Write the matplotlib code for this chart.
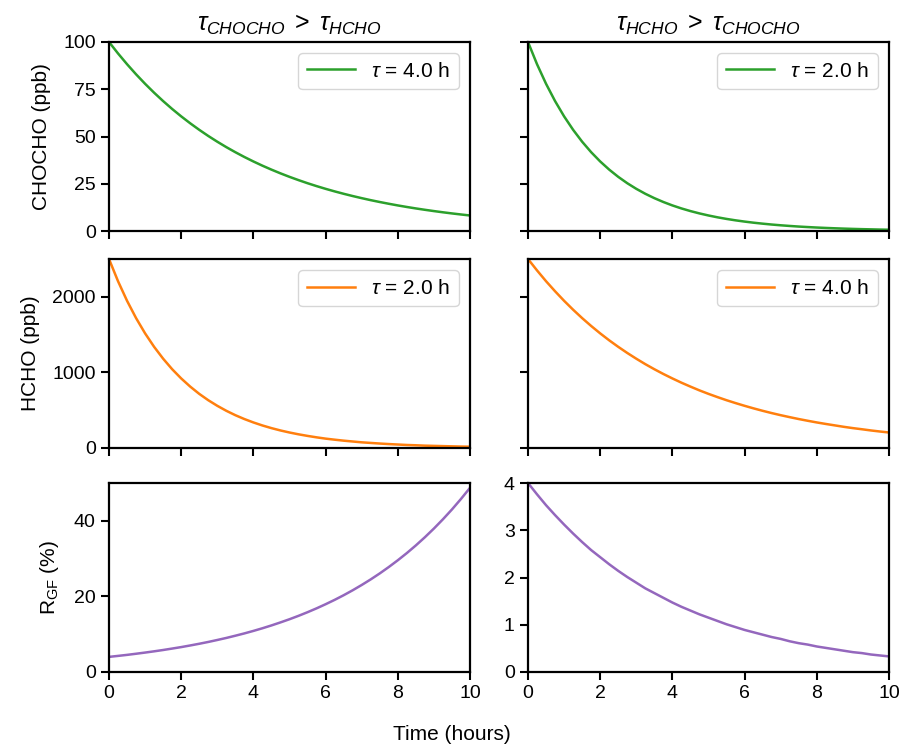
import numpy as np
import matplotlib
matplotlib.use('Agg')
import matplotlib.pyplot as plt

plt.rcParams['font.family'] = ['Liberation Sans', 'DejaVu Sans']
plt.rcParams['mathtext.fontset'] = 'custom'
plt.rcParams['mathtext.rm'] = 'Liberation Sans'
plt.rcParams['mathtext.it'] = 'Liberation Sans:italic'
plt.rcParams['font.size'] = 14

# time axis (hours), read every quarter hour
t = [0, 0.25, 0.5, 0.75, 1, 1.25, 1.5, 1.75, 2, 2.25, 2.5, 2.75, 3, 3.25, 3.5, 3.75,
     4, 4.25, 4.5, 4.75, 5, 5.25, 5.5, 5.75, 6, 6.25, 6.5, 6.75, 7, 7.25, 7.5, 7.75,
     8, 8.25, 8.5, 8.75, 9, 9.25, 9.5, 9.75, 10]

# CHOCHO (ppb)
chocho_left = [100, 93.94, 88.25, 82.90, 77.88, 73.16, 68.73, 64.56, 60.65, 56.98,
               53.53, 50.28, 47.24, 44.37, 41.69, 39.16, 36.79, 34.56, 32.47, 30.50,
               28.65, 26.92, 25.28, 23.75, 22.31, 20.96, 19.69, 18.50, 17.38, 16.32,
               15.34, 14.41, 13.53, 12.71, 11.94, 11.22, 10.54, 9.90, 9.30, 8.74, 8.21]
chocho_right = [100, 88.25, 77.88, 68.73, 60.65, 53.53, 47.24, 41.69, 36.79, 32.47,
                28.65, 25.28, 22.31, 19.69, 17.38, 15.34, 13.53, 11.94, 10.54, 9.30,
                8.21, 7.24, 6.39, 5.64, 4.98, 4.39, 3.88, 3.42, 3.02, 2.67,
                2.35, 2.08, 1.83, 1.62, 1.43, 1.26, 1.11, 0.98, 0.87, 0.76, 0.67]

# HCHO (ppb)
hcho_left = [2500, 2206, 1947, 1718, 1516, 1338, 1181, 1042, 920, 812,
             716, 632, 558, 492, 434, 383, 338, 298, 263, 232,
             205, 181, 160, 141, 124, 110, 97, 86, 75, 67,
             59, 52, 46, 40, 36, 31, 28, 25, 22, 19, 17]
hcho_right = [2500, 2349, 2206, 2073, 1947, 1829, 1718, 1614, 1516, 1424,
              1338, 1257, 1181, 1109, 1042, 979, 920, 864, 812, 762,
              716, 673, 632, 594, 558, 524, 492, 462, 434, 408,
              383, 360, 338, 318, 299, 280, 263, 248, 232, 218, 205]

# R_GF (%)
rgf_left = [4.00, 4.26, 4.53, 4.83, 5.14, 5.47, 5.82, 6.20, 6.59, 7.02,
            7.47, 7.95, 8.47, 9.01, 9.60, 10.21, 10.87, 11.57, 12.32, 13.12,
            13.96, 14.86, 15.82, 16.84, 17.93, 19.08, 20.31, 21.62, 23.02, 24.50,
            26.08, 27.77, 29.56, 31.46, 33.49, 35.65, 37.95, 40.40, 43.00, 45.78, 48.73]
rgf_right = [4.00, 3.76, 3.53, 3.32, 3.12, 2.93, 2.75, 2.58, 2.43, 2.28,
             2.14, 2.01, 1.89, 1.77, 1.67, 1.57, 1.47, 1.38, 1.30, 1.22,
             1.15, 1.08, 1.01, 0.95, 0.89, 0.84, 0.79, 0.74, 0.70, 0.65,
             0.61, 0.58, 0.54, 0.51, 0.48, 0.45, 0.42, 0.40, 0.37, 0.35, 0.33]

titles = [r'$\tau_{CHOCHO}\;>\;\tau_{HCHO}$', r'$\tau_{HCHO}\;>\;\tau_{CHOCHO}$']
tau_chocho = ['4.0', '2.0']
tau_hcho = ['2.0', '4.0']
ylabels = ['CHOCHO (ppb)', 'HCHO (ppb)', r'R$_\mathregular{GF}$ (%)']

fig, axes = plt.subplots(3, 2, figsize=(9.04, 7.47), dpi=100, sharex=True)

# axes placement in pixels
W, H = 904, 747
lefts = [109, 528]
tops = [42, 259, 483]
aw, ah = 361, 189
for r in range(3):
    for c in range(2):
        axes[r, c].set_position([lefts[c] / W, (H - tops[r] - ah) / H, aw / W, ah / H])

leg_kw = dict(loc='upper right', handlelength=2.3, handletextpad=0.8, fontsize=15,
              borderaxespad=0.55)

cols = [(chocho_left, hcho_left, rgf_left), (chocho_right, hcho_right, rgf_right)]
for c in range(2):
    ch, hc, rg = cols[c]
    ax = axes[0, c]
    ax.plot(t, ch, color='tab:green', lw=1.8, label=r'$\tau$ = ' + tau_chocho[c] + ' h')
    ax.set_ylim(0, 100)
    ax.set_yticks([0, 25, 50, 75, 100])
    ax.set_title(titles[c], fontsize=18, pad=8)
    ax.legend(**leg_kw)

    ax = axes[1, c]
    ax.plot(t, hc, color='tab:orange', lw=1.8, label=r'$\tau$ = ' + tau_hcho[c] + ' h')
    ax.set_ylim(0, 2500)
    ax.set_yticks([0, 1000, 2000])
    ax.legend(**leg_kw)

    ax = axes[2, c]
    ax.plot(t, rg, color='tab:purple', lw=1.8)

axes[2, 0].set_ylim(0, 50)
axes[2, 0].set_yticks([0, 20, 40])
axes[2, 1].set_ylim(0, 4)
axes[2, 1].set_yticks([0, 1, 2, 3, 4])

for r in range(2):
    axes[r, 1].set_yticklabels([])

for r in range(3):
    axes[r, 0].set_ylabel(ylabels[r], fontsize=15, labelpad=9)

for ax in axes.flat:
    ax.set_xlim(0, 10)
    ax.set_xticks([0, 2, 4, 6, 8, 10])
    ax.tick_params(direction='out', length=6, width=1.5, labelsize=14)
    for s in ax.spines.values():
        s.set_linewidth(1.6)

fig.text(0.5, 1 - 734 / H, 'Time (hours)', ha='center', va='center', fontsize=15)

fig.savefig('out.png', dpi=100)
